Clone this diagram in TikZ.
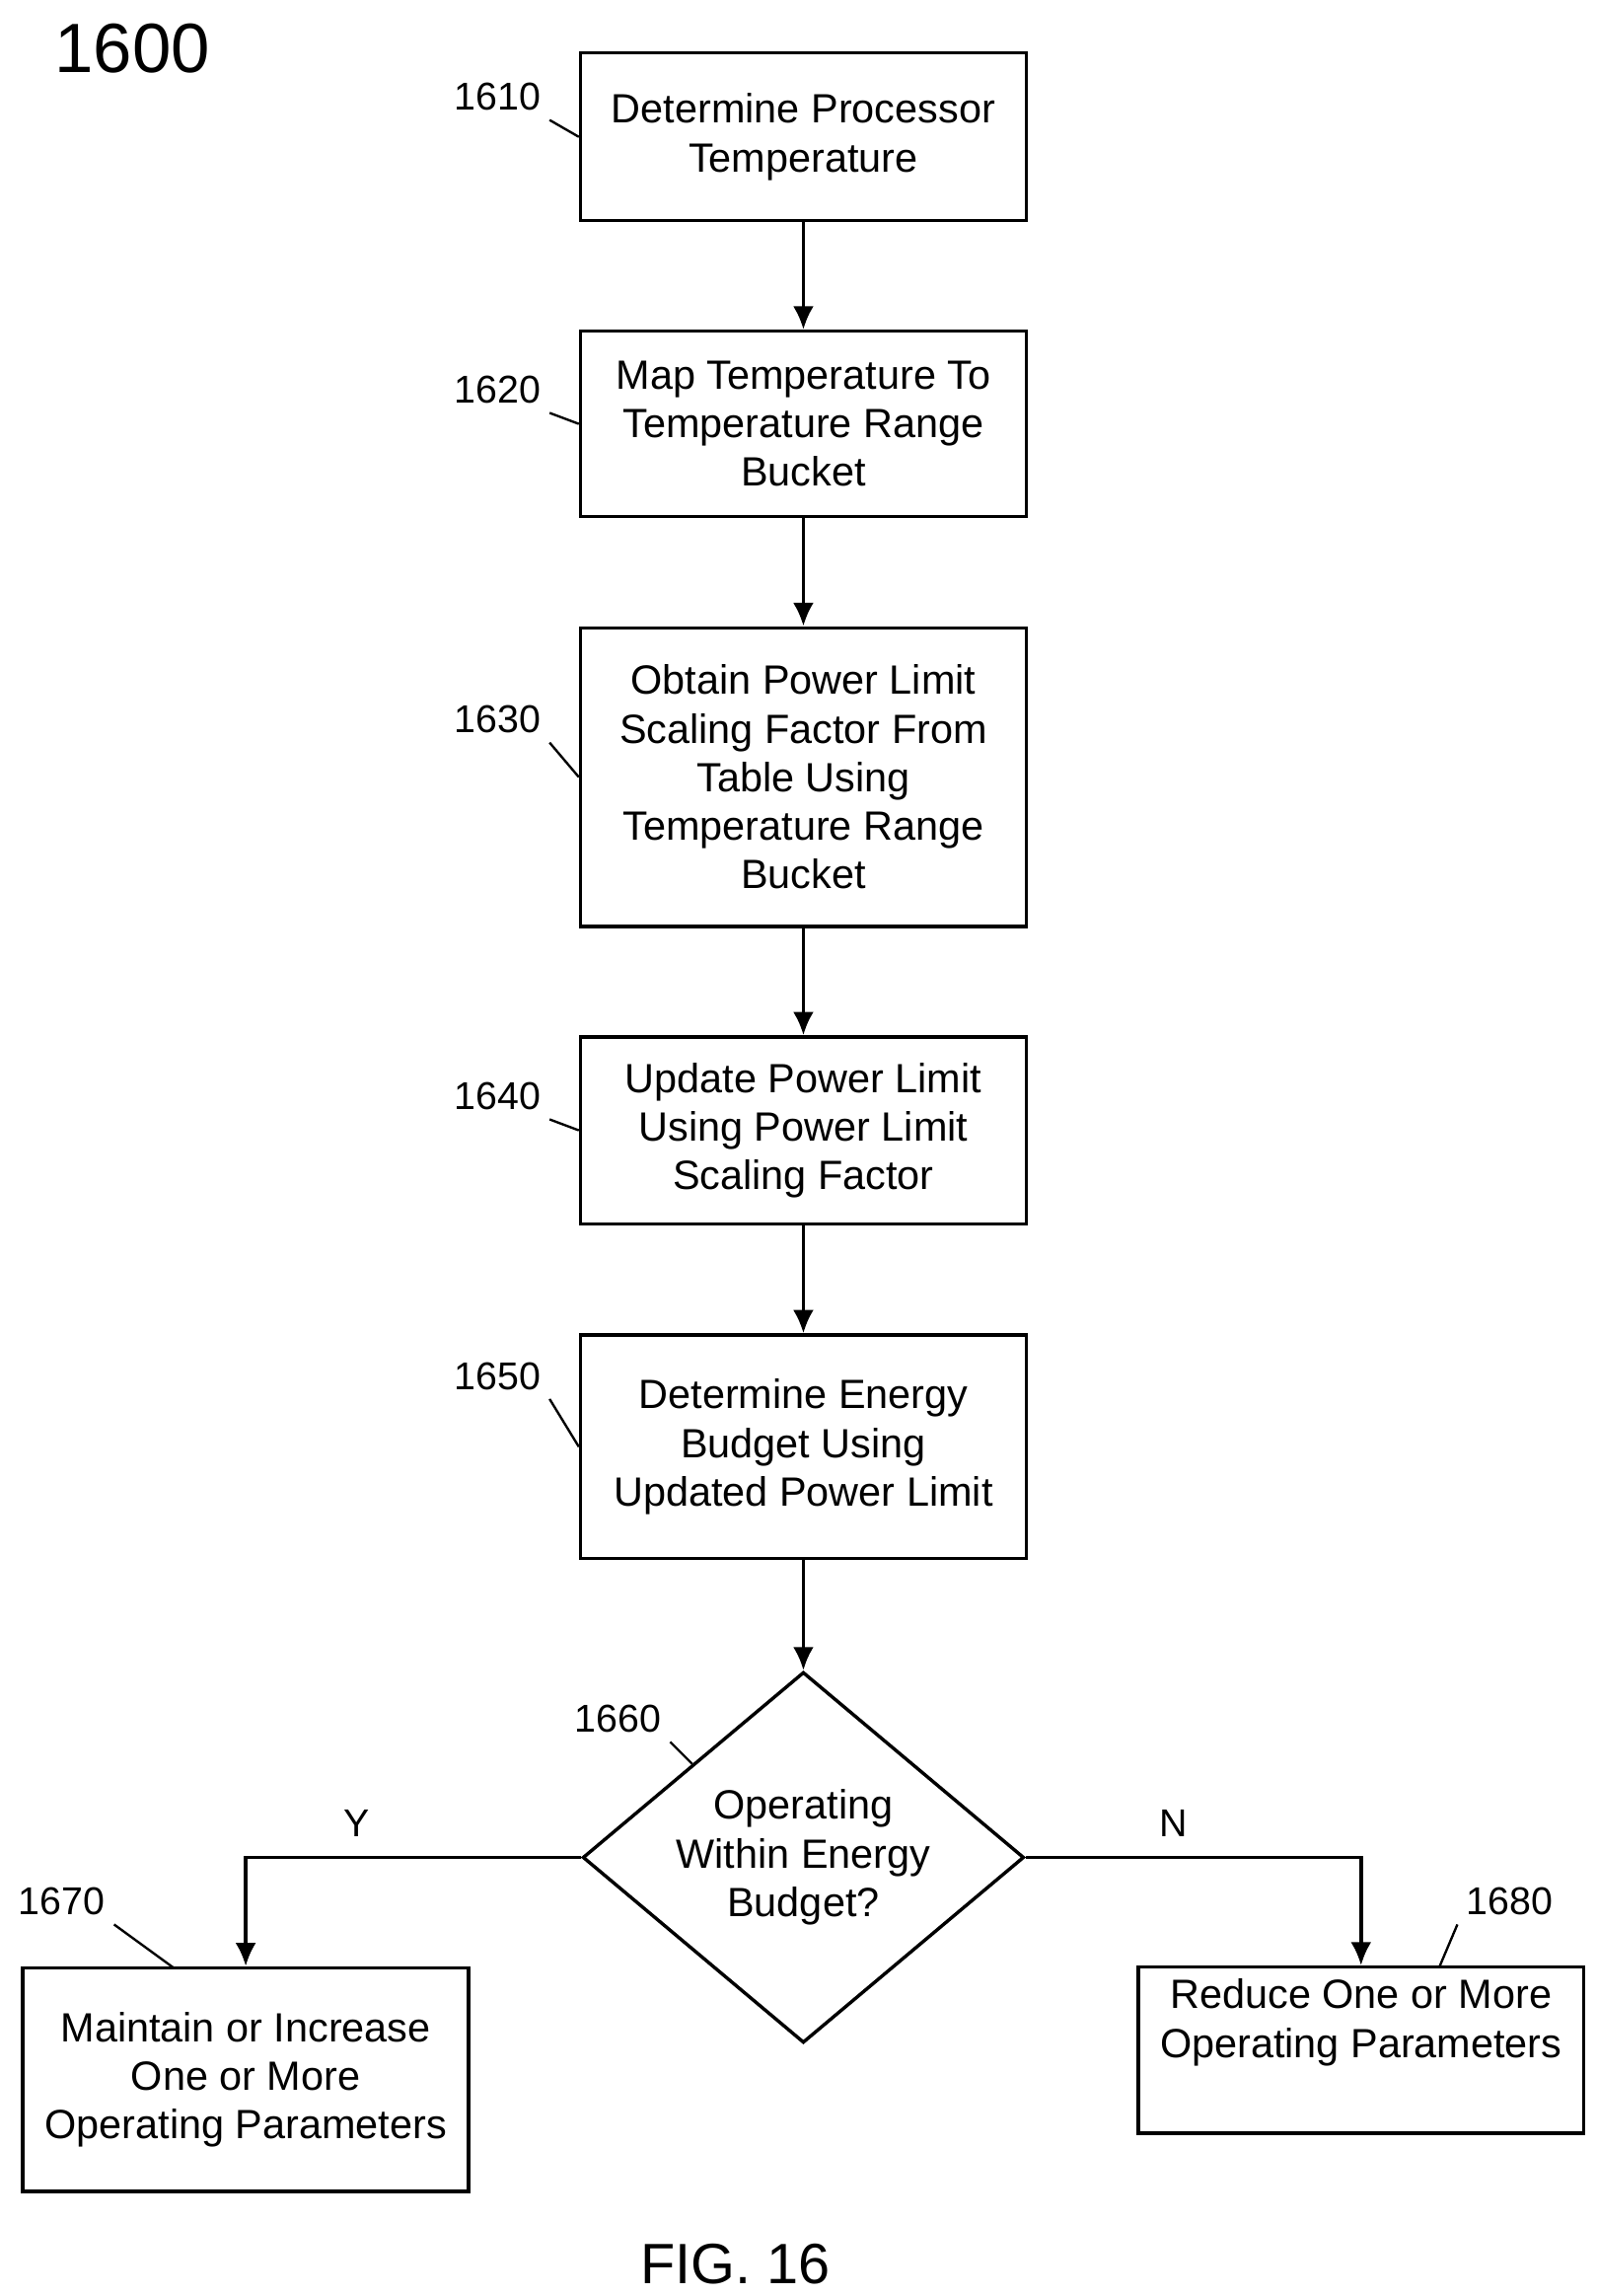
\documentclass[tikz,border=0pt]{standalone}
\usepackage{fontspec}
\setmainfont{Liberation Sans}
\usetikzlibrary{positioning}
\usetikzlibrary{arrows.meta}
\usetikzlibrary{shapes.geometric}

\tikzset{
    procbox/.style={draw, line width=1.3pt, minimum width=6.06cm, align=center,
        inner sep=0pt, font=\fontsize{15.8}{18.8}\selectfont},
    decision/.style={draw, diamond, line width=1.3pt, minimum width=6cm,
        minimum height=5.04cm, aspect=1.2, inner sep=0pt, align=center,
        font=\fontsize{15.8}{18.8}\selectfont},
    refnum/.style={font=\fontsize{15}{17}\selectfont},
    flow/.style={line width=1.3pt, -{Latex[length=9pt,width=8pt]}},
    leader/.style={line width=0.9pt}
}

\begin{document}
\begin{tikzpicture}[x=0.02cm, y=-0.02cm]
        \useasboundingbox (0,0) rectangle (1085,1560);

        \node[font=\fontsize{27}{30}\selectfont] (fig) at (90,33) {1600};

        \node[procbox, minimum height=2.28cm] (Temp) at (546,93)
            {Determine Processor\\Temperature};
        \node[procbox, minimum height=2.52cm] (Bucket) at (546,288)
            {Map Temperature To\\Temperature Range\\Bucket};
        \node[procbox, minimum height=4.06cm] (Scale) at (546,528)
            {Obtain Power Limit\\Scaling Factor From\\Table Using\\Temperature Range\\Bucket};
        \node[procbox, minimum height=2.54cm] (Limit) at (546,768)
            {Update Power Limit\\Using Power Limit\\Scaling Factor};
        \node[procbox, minimum height=3.04cm] (Budget) at (546,983)
            {Determine Energy\\Budget Using\\Updated Power Limit};
        \node[decision] (Within) at (546,1262)
            {Operating\\Within Energy\\Budget?};
        \node[procbox, minimum height=3.04cm] (Keep) at (167,1413)
            {Maintain or Increase\\One or More\\Operating Parameters};
        \node[procbox, minimum height=2.26cm] (Reduce) at (925,1393)
            {Reduce One or More\\Operating Parameters\\[6pt]};

        % reference numerals
        \node[refnum] (n1610) at (338,66) {1610};
        \node[refnum] (n1620) at (338,265) {1620};
        \node[refnum] (n1630) at (338,489) {1630};
        \node[refnum] (n1640) at (338,745) {1640};
        \node[refnum] (n1650) at (338,935) {1650};
        \node[refnum] (n1660) at (420,1168) {1660};
        \node[refnum] (n1670) at (42,1292) {1670};
        \node[refnum] (n1680) at (1026,1292) {1680};
        \draw[leader] (n1610.south east) -- (Temp.west);
        \draw[leader] (n1620.south east) -- (Bucket.west);
        \draw[leader] (n1630.south east) -- (Scale.west);
        \draw[leader] (n1640.south east) -- (Limit.west);
        \draw[leader] (n1650.south east) -- (Budget.west);
        \draw[leader] (n1660.south east) -- (Within.north west);
        \draw[leader] (n1670.south east) -- (118,1337);
        \draw[leader] (n1680.south west) -- (978,1337);

        \draw[flow] (Temp) -- (Bucket);
        \draw[flow] (Bucket) -- (Scale);
        \draw[flow] (Scale) -- (Limit);
        \draw[flow] (Limit) -- (Budget);
        \draw[flow] (Budget) -- (Within);
        \draw[flow] (Within.west) -| node[pos=0.335, above=4pt, refnum] {Y} (Keep.north);
        \draw[flow] (Within.east) -| node[pos=0.22, above=4pt, refnum] {N} (Reduce.north);

        \node[font=\fontsize{22}{26}\selectfont] (caption) at (500,1538) {FIG. 16};
\end{tikzpicture}
\end{document}
